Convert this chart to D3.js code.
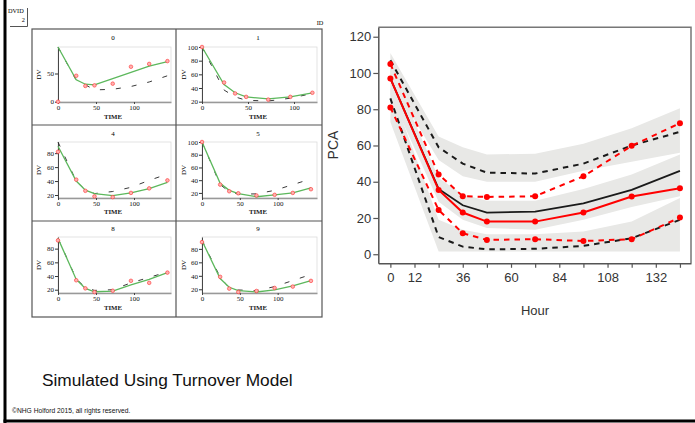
<!DOCTYPE html>
<html><head><meta charset="utf-8">
<script src="https://cdn.jsdelivr.net/npm/d3@7"></script>
<style>html,body{margin:0;padding:0;background:#fff;overflow:hidden}</style>
</head><body>
<svg id="c" width="695" height="423"></svg>
<script>
// ---------- DATA ----------
// small individual panels (left)
const panelIds = ["0", "1", "4", "5", "8", "9"];
const indTimes = [0, 24, 36, 48, 72, 96, 120, 144];
const indTimes1 = [0, 24, 36, 48, 72, 96, 120];
const obs0 = [0, 46, 28, 29, 32, 62, 67, 72];
const pred0 = [97, 39, 31, 30, 41, 52, 63, 71];
const ipred0 = [97, 38, 30, 21, 22, 27, 35, 46];
const obs1 = [100, 48, 32, 27, 23, 27, 33];
const pred1 = [100, 45, 33, 27, 24, 27, 33];
const ipred1 = [100, 37, 27, 22, 21, 25, 32];
const obs4 = [82, 42, 26, 18, 17, 23, 29.5, 41];
const pred4 = [90, 40, 27, 22, 19, 23, 29, 38];
const ipred4 = [96, 40, 27, 22, 25, 31, 41, 50];
const obs5 = [100, 33, 22.6, 19.4, 16, 17, 20, 25.8];
const pred5 = [100, 35, 24, 19, 14, 17, 20, 28];
const ipred5 = [100, 33, 22, 18, 18.5, 24, 33, 42];
const obs8 = [92, 33.8, 22, 16.5, 18.5, 33, 30, 45];
const pred8 = [95, 35, 22, 17, 18, 27, 35, 45];
const ipred8 = [95, 36, 23, 19, 20, 30, 38, 46];
const obs9 = [90, 38.5, 21, 16, 17.5, 22, 24, 32.5];
const pred9 = [92, 36, 23, 18, 16, 19, 25, 33];
const ipred9 = [93, 38, 22, 19, 18, 24, 33, 42];
const indXMax = [148.7, 125, 148.7, 152, 148.7, 152];
const indYMin = [-0.5, 19.5, 15.7, 12, 15.2, 14.5];
const indYMax = [97, 100, 96, 100, 97, 97.6];
const indXTicks = [0, 50, 100];
const indYTicks0 = [0, 50];
const indYTicks1 = [20, 40, 60, 80, 100];
const indYTicks4 = [20, 40, 60, 80];
const indYTicks5 = [20, 40, 60, 80, 100];
const indYTicks8 = [20, 40, 60, 80];
const indYTicks9 = [20, 40, 60, 80];

// VPC (right)
const vpcTimes = [0, 24, 36, 48, 72, 96, 120, 144];
const obsMedian = [97, 35.5, 23, 18, 18, 23, 31.8, 36.4];
const obsP95 = [105, 44, 32, 31.6, 32, 43, 59.8, 72.3];
const obsP5 = [81, 24.4, 11.6, 7.9, 8.3, 7.3, 8.3, 20.2];
const simMedian = [97, 36, 27, 23, 23.5, 28, 35.5, 46];
const simP95 = [107, 59, 50, 45, 44.5, 50, 60, 67.5];
const simP5 = [86, 9.5, 4.2, 2.7, 3, 4.6, 8.8, 19];
const band95Lo = [96, 52, 43, 40, 40, 46, 51, 56];
const band95Hi = [111, 65, 59, 55, 55.5, 61, 69.5, 80.5];
const bandMedLo = [88, 29, 19, 14.5, 13.5, 19, 26, 32];
const bandMedHi = [104, 42, 33, 29.5, 29.5, 36, 44, 55];
const band5Lo = [73, 1.5, 1.5, 1.5, 1.5, 1.5, 1.5, 1.5];
const band5Hi = [92, 19, 13.5, 11, 11, 12.5, 18, 31];
const vpcXTicks = [0, 12, 24, 36, 48, 60, 72, 84, 96, 108, 120, 132, 144];
const vpcXLabels = [0, 12, 36, 60, 84, 108, 132];
const vpcYTicks = [0, 20, 40, 60, 80, 100, 120];
const vpcXDomain = [-6, 149.5];
const vpcYDomain = [-5, 125.2];

// ---------- DRAW ----------
const svg = d3.select("#c");
const serif = "'Liberation Serif','DejaVu Serif',serif";
const sans = "'Liberation Sans',Arial,sans-serif";

// slide frame
svg.append("rect").attr("x", 3.5).attr("y", 0).attr("width", 3).attr("height", 423).attr("fill", "#000");
svg.append("rect").attr("x", 3.5).attr("y", 419.5).attr("width", 692).attr("height", 3).attr("fill", "#000");

// DVID box
svg.append("text").attr("x", 8).attr("y", 13).attr("font-family", serif).attr("font-size", 6.3).text("DVID");
svg.append("text").attr("x", 25).attr("y", 22).attr("text-anchor", "end").attr("font-family", serif).attr("font-size", 6.3).text("2");
svg.append("path").attr("d", "M27.5,8 V26.5 H10").attr("fill", "none").attr("stroke", "#555").attr("stroke-width", 1);
svg.append("text").attr("x", 320).attr("y", 25).attr("text-anchor", "middle").attr("font-family", serif).attr("font-size", 6.3).text("ID");

// grid
const g = svg.append("g");
g.append("rect").attr("x", 32).attr("y", 29).attr("width", 290).attr("height", 288)
  .attr("fill", "none").attr("stroke", "#555").attr("stroke-width", 1.2);
g.append("line").attr("x1", 176).attr("x2", 176).attr("y1", 29).attr("y2", 317).attr("stroke", "#555").attr("stroke-width", 1.2);
[125, 221].forEach(yy => g.append("line").attr("x1", 32).attr("x2", 322).attr("y1", yy).attr("y2", yy).attr("stroke", "#555").attr("stroke-width", 1.2));

const colLayout = [{x0: 58, x1: 171, lab: 38.5, mid: 113}, {x0: 202, x1: 317, lab: 184, mid: 258}];
const rowLayout = [{top: 47, bottom: 102, title: 40, tick: 107.3, time: 119}, {top: 142, bottom: 198, title: 136, tick: 202.7, time: 214}, {top: 237, bottom: 293, title: 231, tick: 298.3, time: 310}];
const panelData = [
  {t: indTimes, obs: obs0, pred: pred0, ipred: ipred0, yt: indYTicks0},
  {t: indTimes1, obs: obs1, pred: pred1, ipred: ipred1, yt: indYTicks1},
  {t: indTimes, obs: obs4, pred: pred4, ipred: ipred4, yt: indYTicks4},
  {t: indTimes, obs: obs5, pred: pred5, ipred: ipred5, yt: indYTicks5},
  {t: indTimes, obs: obs8, pred: pred8, ipred: ipred8, yt: indYTicks8},
  {t: indTimes, obs: obs9, pred: pred9, ipred: ipred9, yt: indYTicks9}
];

panelData.forEach((p, i) => {
  const c = colLayout[i % 2], r = rowLayout[Math.floor(i / 2)];
  const x = d3.scaleLinear().domain([0, indXMax[i]]).range([c.x0, c.x1]);
  const y = d3.scaleLinear().domain([indYMin[i], indYMax[i]]).range([r.bottom, r.top]);
  const pg = svg.append("g");
  pg.append("rect").attr("x", c.x0).attr("y", r.top).attr("width", c.x1 - c.x0).attr("height", r.bottom - r.top)
    .attr("fill", "none").attr("stroke", "#dcdcdc").attr("stroke-width", 0.8);
  pg.append("text").attr("x", c.mid).attr("y", r.title).attr("text-anchor", "middle")
    .attr("font-family", serif).attr("font-size", 7).text(panelIds[i]);
  // x axis
  const xa = pg.append("g").attr("transform", `translate(0,${r.bottom})`)
    .call(d3.axisBottom(x).tickValues(indXTicks).tickSize(2).tickPadding(1).tickSizeOuter(0));
  xa.select(".domain").attr("stroke", "#999").attr("stroke-width", 1.6);
  xa.selectAll("text").attr("font-family", serif).attr("font-size", 7).attr("fill", "#111");
  xa.selectAll("line").attr("stroke", "#444");
  // y axis
  const ya = pg.append("g").attr("transform", `translate(${c.x0},0)`)
    .call(d3.axisLeft(y).tickValues(p.yt).tickSize(3).tickPadding(1).tickSizeOuter(0));
  ya.select(".domain").attr("stroke", "#333").attr("stroke-width", 0.9);
  ya.selectAll("text").attr("font-family", serif).attr("font-size", 7).attr("fill", "#111");
  ya.selectAll("line").attr("stroke", "#333");
  // labels
  pg.append("text").attr("transform", `translate(${c.lab + 2},${(r.top + r.bottom) / 2}) rotate(-90)`)
    .attr("text-anchor", "middle").attr("font-family", serif).attr("font-size", 7).text("DV");
  pg.append("text").attr("x", c.mid).attr("y", r.time).attr("text-anchor", "middle")
    .attr("font-family", serif).attr("font-size", 6.8).attr("font-weight", "bold").attr("fill", "#222").text("TIME");
  const line = arr => d3.line().x((d, k) => x(p.t[k])).y(d => y(d))(arr);
  pg.append("path").attr("d", line(p.ipred)).attr("fill", "none").attr("stroke", "#222")
    .attr("stroke-width", 0.9).attr("stroke-dasharray", "5,11");
  pg.append("path").attr("d", line(p.pred)).attr("fill", "none").attr("stroke", "#5cb85c").attr("stroke-width", 1.3);
  pg.selectAll("circle.o").data(p.obs).enter().append("circle")
    .attr("cx", (d, k) => x(p.t[k])).attr("cy", d => y(d)).attr("r", 1.8)
    .attr("fill", "#ffb0b0").attr("stroke", "#ff3030").attr("stroke-width", 0.6);
});

// bottom-left texts
svg.append("text").attr("x", 42).attr("y", 386).attr("font-family", sans).attr("font-size", 17.3)
  .attr("fill", "#111").text("Simulated Using Turnover Model");
svg.append("text").attr("x", 12).attr("y", 413).attr("font-family", sans).attr("font-size", 6.7)
  .attr("fill", "#111").text("\u00A9NHG Holford 2015, all rights reserved.");

// ---------- VPC ----------
const L = 378.3, R = 691, T = 27.3, B = 263.3;
const vx = d3.scaleLinear().domain(vpcXDomain).range([L, R]);
const vy = d3.scaleLinear().domain(vpcYDomain).range([B, T]);
const vg = svg.append("g");

const area = (lo, hi) => d3.area().x((d, k) => vx(vpcTimes[k])).y0((d, k) => vy(lo[k])).y1((d, k) => vy(hi[k]))(lo);
[[band95Lo, band95Hi], [bandMedLo, bandMedHi], [band5Lo, band5Hi]].forEach(b =>
  vg.append("path").attr("d", area(b[0], b[1])).attr("fill", "#e8e8e6"));

const vline = arr => d3.line().x((d, k) => vx(vpcTimes[k])).y(d => vy(d))(arr);
[simP95, simP5].forEach(s => vg.append("path").attr("d", vline(s)).attr("fill", "none")
  .attr("stroke", "#1a1a1a").attr("stroke-width", 2).attr("stroke-dasharray", "5.5,5"));
vg.append("path").attr("d", vline(simMedian)).attr("fill", "none").attr("stroke", "#1a1a1a").attr("stroke-width", 1.8);
[obsP95, obsP5].forEach(s => vg.append("path").attr("d", vline(s)).attr("fill", "none")
  .attr("stroke", "#ff0000").attr("stroke-width", 2).attr("stroke-dasharray", "5.5,5"));
vg.append("path").attr("d", vline(obsMedian)).attr("fill", "none").attr("stroke", "#ff0000").attr("stroke-width", 2);
[obsMedian, obsP95, obsP5].forEach(s => vg.selectAll(null).data(s).enter().append("circle")
  .attr("cx", (d, k) => vx(vpcTimes[k])).attr("cy", d => vy(d)).attr("r", 3).attr("fill", "#ff0000"));

// frame
vg.append("path").attr("d", `M${L},${T} H${R} V${B}`).attr("fill", "none").attr("stroke", "#777").attr("stroke-width", 1.5);
const xax = vg.append("g").attr("transform", `translate(0,${B})`)
  .call(d3.axisBottom(vx).tickValues(vpcXTicks).tickSize(4.5).tickPadding(5).tickSizeOuter(0)
    .tickFormat(d => vpcXLabels.includes(d) ? d : ""));
const yax = vg.append("g").attr("transform", `translate(${L},0)`)
  .call(d3.axisLeft(vy).tickValues(vpcYTicks).tickSize(5).tickPadding(2).tickSizeOuter(0));
[xax, yax].forEach(a => {
  a.select(".domain").attr("stroke", "#555").attr("stroke-width", 1.5);
  a.selectAll("line").attr("stroke", "#555").attr("stroke-width", 1.2);
  a.selectAll("text").attr("font-family", sans).attr("font-size", 13).attr("fill", "#333");
});
vg.append("text").attr("transform", `translate(338,145) rotate(-90)`).attr("text-anchor", "middle")
  .attr("font-family", sans).attr("font-size", 14).attr("fill", "#333").text("PCA");
vg.append("text").attr("x", 535).attr("y", 315).attr("text-anchor", "middle")
  .attr("font-family", sans).attr("font-size", 13).attr("fill", "#333").text("Hour");
</script></body></html>
